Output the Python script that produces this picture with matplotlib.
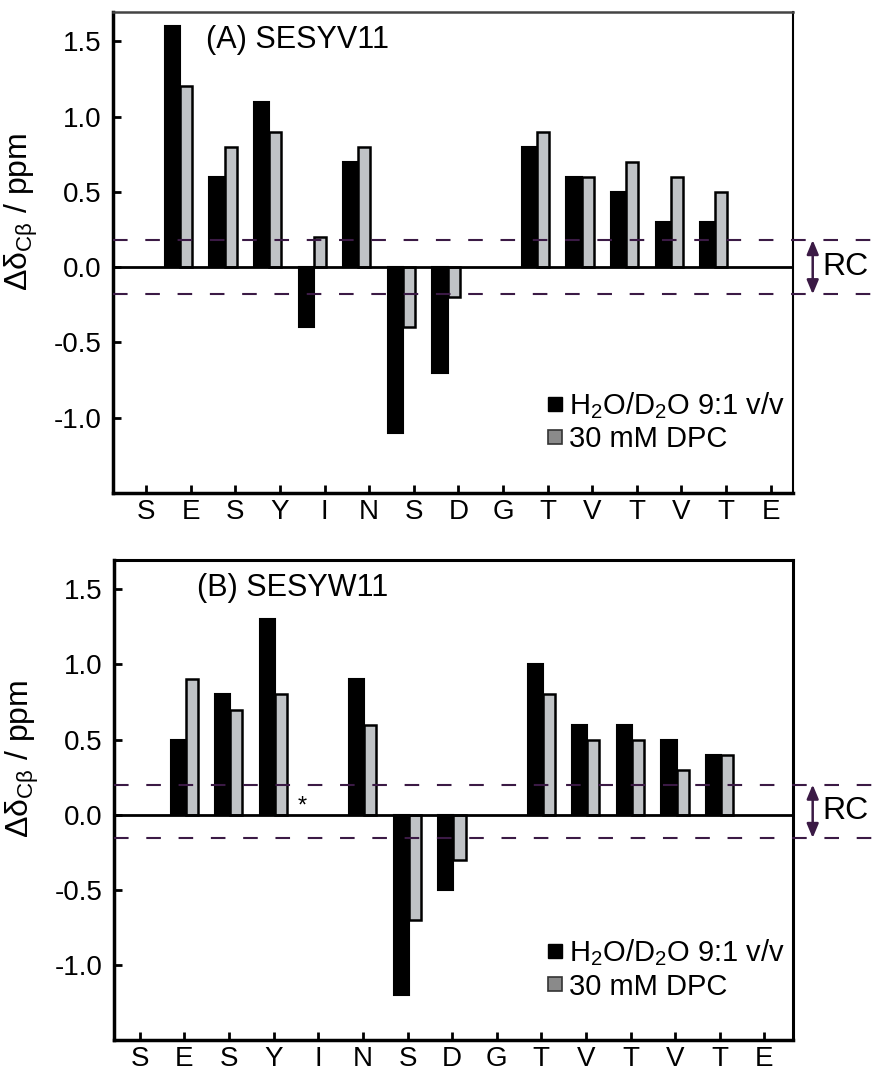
import matplotlib
matplotlib.use("Agg")
import matplotlib.pyplot as plt
from matplotlib.lines import Line2D
import numpy as np

plt.rcParams['font.family'] = ['Liberation Sans', 'DejaVu Sans']
plt.rcParams['mathtext.fontset'] = 'custom'
plt.rcParams['mathtext.rm'] = 'Liberation Sans'
plt.rcParams['mathtext.it'] = 'Liberation Sans:italic'
plt.rcParams['mathtext.bf'] = 'Liberation Sans:bold'

residues = ['S', 'E', 'S', 'Y', 'I', 'N', 'S', 'D', 'G', 'T', 'V', 'T', 'V', 'T', 'E']

# Panel A: SESYV11
a_water = [np.nan, 1.6, 0.6, 1.1, -0.4, 0.7, -1.1, -0.7, np.nan, 0.8, 0.6, 0.5, 0.3, 0.3, np.nan]
a_dpc   = [np.nan, 1.2, 0.8, 0.9, 0.2, 0.8, -0.4, -0.2, np.nan, 0.9, 0.6, 0.7, 0.6, 0.5, np.nan]
a_rc = (0.18, -0.18)

# Panel B: SESYW11
b_water = [np.nan, 0.5, 0.8, 1.3, np.nan, 0.9, -1.2, -0.5, np.nan, 1.0, 0.6, 0.6, 0.5, 0.4, np.nan]
b_dpc   = [np.nan, 0.9, 0.7, 0.8, np.nan, 0.6, -0.7, -0.3, np.nan, 0.8, 0.5, 0.5, 0.3, 0.4, np.nan]
b_rc = (0.20, -0.155)
b_missing = 'I'

titles = ['(A) SESYV11', '(B) SESYW11']
legend_labels = ['H$_2$O/D$_2$O 9:1 v/v', '30 mM DPC']
ylabel = 'Δδ$_{\\mathrm{C}\\mathrm{β}}$ / ppm'

gray = '#c0c3c6'
purple = '#3b1a45'

fig = plt.figure(figsize=(8.72, 10.70), dpi=100)
axA = fig.add_axes([0.1296, 0.5393, 0.7798, 0.4495])
axB = fig.add_axes([0.1307, 0.0280, 0.7787, 0.4486])

x = np.arange(len(residues))

def draw(ax, water, dpc, rc, title, title_x, offset, xlim, spine_top_color):
    wb = 0.34
    gb = 0.27
    ax.bar(x + offset - wb, water, width=wb, align='edge', color='black',
           edgecolor='black', linewidth=1.5, zorder=3)
    ax.bar(x + offset, dpc, width=gb, align='edge', color=gray,
           edgecolor='black', linewidth=1.8, zorder=4)
    ax.axhline(0, color='black', lw=2.0, zorder=5)
    tr = ax.get_yaxis_transform()
    for yv in rc:
        ax.plot([0, 1.12], [yv, yv], transform=tr, clip_on=False, color=purple,
                lw=1.5, dashes=(7.0, 8.5), zorder=6)
    ax.annotate('', xy=(1.029, rc[0]), xytext=(1.029, rc[1]), xycoords=tr, textcoords=tr,
                arrowprops=dict(arrowstyle='<|-|>,head_length=0.6,head_width=0.25',
                                color=purple, lw=1.8,
                                mutation_scale=14, shrinkA=0, shrinkB=0))
    ax.text(1.043, (rc[0] + rc[1]) / 2, 'RC', transform=tr, fontsize=23,
            va='center', ha='left')
    ax.set_xlim(*xlim)
    ax.set_ylim(-1.5, 1.695)
    ax.set_xticks(x)
    ax.set_xticklabels(residues)
    ax.set_yticks([-1.0, -0.5, 0.0, 0.5, 1.0, 1.5])
    ax.set_yticklabels(['-1.0', '-0.5', '0.0', '0.5', '1.0', '1.5'])
    ax.tick_params(direction='in', length=6, width=2, labelsize=20, pad=8)
    ax.tick_params(axis='x', pad=4)
    ax.set_ylabel(ylabel, fontsize=23)
    ax.yaxis.set_label_coords(-0.108, 0.585)
    ax.text(title_x, 0.942, title, transform=ax.transAxes, fontsize=22,
            va='center', ha='left')
    for s in ['left', 'bottom']:
        ax.spines[s].set_linewidth(2.5)
    ax.spines['top'].set_linewidth(1.8)
    ax.spines['top'].set_color(spine_top_color)
    ax.spines['right'].set_linewidth(1.5)
    handles = [Line2D([], [], marker='s', linestyle='none', markersize=10,
                      markerfacecolor='black', markeredgecolor='black'),
               Line2D([], [], marker='s', linestyle='none', markersize=10,
                      markerfacecolor='#8a8a8a', markeredgecolor='#333333', markeredgewidth=1.2)]
    ax.legend(handles, legend_labels, loc='center left', bbox_to_anchor=(0.638, 0.148),
              frameon=False, fontsize=21, handlelength=0.55, handletextpad=0.2,
              labelspacing=0.15, borderpad=0, borderaxespad=0)

draw(axA, a_water, a_dpc, a_rc, titles[0], 0.137, -0.24, (-0.74, 14.5), '#444444')
draw(axB, b_water, b_dpc, b_rc, titles[1], 0.122, 0.03, (-0.58, 14.64), 'black')
axB.spines['right'].set_linewidth(2.2)
axB.spines['top'].set_linewidth(2.2)

mi = residues.index(b_missing)
axB.text(mi - 0.36, -0.02, '*', fontsize=17, ha='center', va='bottom')

fig.savefig('out.png', dpi=100)
